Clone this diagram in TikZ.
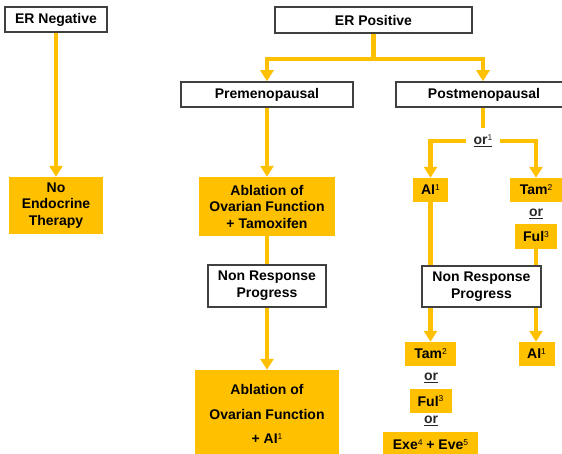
\documentclass[tikz,border=0pt]{standalone}
\usepackage{fontspec}
\setmainfont{Liberation Sans}
\usetikzlibrary{arrows.meta}
\definecolor{orng}{RGB}{255,192,0}
\definecolor{boxgray}{RGB}{64,64,64}
\definecolor{ortext}{RGB}{40,40,40}
\newcommand\sps[1]{\raisebox{0.55ex}{\fontsize{8.5}{8.5}\selectfont\mdseries #1}}
\tikzset{
  lab/.style={font={\fontsize{14}{#1}\selectfont\bfseries}},
  lab/.default=16.5,
  wbox/.style={draw=boxgray, line width=1.6pt, fill=white, inner sep=0pt, align=center, text=black},
  obox/.style={fill=orng, inner sep=0pt, align=center, text=black},
  conn/.style={draw=orng, line width=4.5pt},
  arr/.style={conn, -{Triangle[width=13pt,length=11pt]}},
  ortxt/.style={lab, text=ortext, inner sep=0pt}
}
\begin{document}
\begin{tikzpicture}[x=1pt,y=-1pt]
\useasboundingbox (0,0) rectangle (562,454);
\clip (0,0) rectangle (562,454);
% left branch
\node[wbox, lab, minimum width=102pt, minimum height=25pt] (erneg) at (56,19.5) {ER Negative};
\node[obox, lab, minimum width=94pt, minimum height=57pt] (nonendo) at (56,205.5) {No\\Endocrine\\Therapy};
% top
\node[wbox, lab, minimum width=197pt, minimum height=26pt] (erpos) at (373.5,20) {ER Positive};
\node[wbox, lab, minimum width=172pt, minimum height=25pt] (pre) at (267,94.5) {Premenopausal};
\node[wbox, lab, minimum width=176pt, minimum height=25pt] (post) at (484,94.5) {Postmenopausal};
% premenopausal column
\node[obox, lab, minimum width=136pt, minimum height=59pt] (abl1) at (267,206.5) {Ablation of\\Ovarian Function\\+ Tamoxifen};
\node[wbox, lab=17, minimum width=118pt, minimum height=42pt] (nr1) at (267,286) {Non Response\\Progress};
\node[obox, lab=24.5, minimum width=144pt, minimum height=88pt] (abl2) at (267,414) {Ablation of\\Ovarian Function\\+ AI\sps{1}};
% postmenopausal column
\node[ortxt, minimum width=34pt, minimum height=26pt] (orA) at (483,141) {\underline{or\sps{1}}};
\node[obox, lab, minimum width=35pt, minimum height=24pt] (ai1) at (430.5,190) {AI\sps{1}};
\node[obox, lab, minimum width=52pt, minimum height=24pt] (tam1) at (536,190) {Tam\sps{2}};
\node[ortxt] (or1) at (536,214) {\underline{or}};
\node[obox, lab, minimum width=42pt, minimum height=25pt] (ful1) at (536,236.5) {Ful\sps{3}};
\node[wbox, lab=17, minimum width=119pt, minimum height=41pt] (nr2) at (481.5,286.5) {Non Response\\Progress};
\node[obox, lab, minimum width=51pt, minimum height=24pt] (tam2) at (430.5,354) {Tam\sps{2}};
\node[obox, lab, minimum width=36pt, minimum height=24pt] (ai2) at (536.5,354) {AI\sps{1}};
\node[ortxt] (or2) at (431,378) {\underline{or}};
\node[obox, lab, minimum width=42pt, minimum height=24pt] (ful2) at (430.5,401) {Ful\sps{3}};
\node[ortxt] (or3) at (431,421) {\underline{or}};
\node[obox, lab, minimum width=95pt, minimum height=26pt] (exe) at (430.5,445) {Exe\sps{4} + Eve\sps{5}};
% connectors
\draw[arr] (erneg) -- (nonendo);
\draw[conn] (erpos.south) -- ++(0,25) coordinate (j1);
\draw[arr] (j1) -| (pre.north);
\draw[arr] (j1) -| ([xshift=-1pt]post.north);
\draw[arr] (pre) -- (abl1);
\draw[conn] (abl1) -- (nr1);
\draw[arr] (nr1) -- (abl2);
\draw[conn] ([xshift=-1pt]post.south) -- (orA.north);
\draw[arr] (orA.west) -| (ai1.north);
\draw[arr] (orA.east) -| (tam1.north);
\draw[conn] (ai1) -- (ai1 |- nr2.north);
\draw[arr] (ai1 |- nr2.south) -- (tam2.north);
\draw[conn] (ful1) -- (ful1 |- nr2.north);
\draw[arr] (ful1 |- nr2.south) -- (ful1 |- ai2.north);
\end{tikzpicture}
\end{document}
